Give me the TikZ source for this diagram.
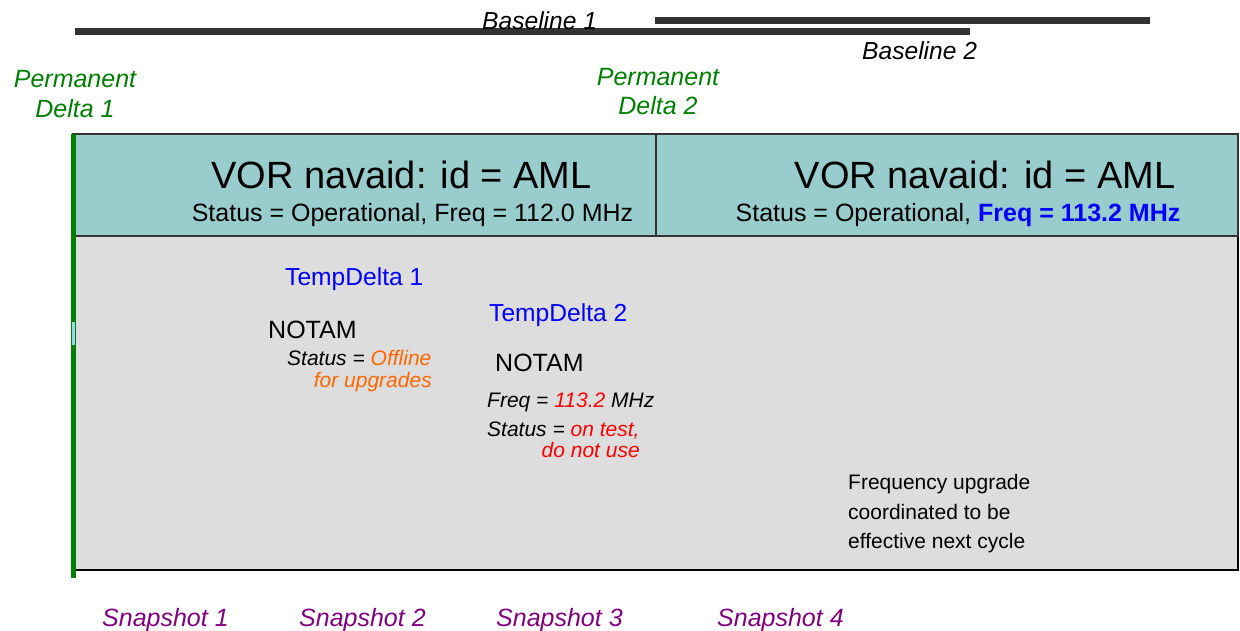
\documentclass[tikz,border=0pt]{standalone}
\usepackage{fontspec}
\setmainfont{Liberation Sans}
\definecolor{vorteal}{RGB}{153,204,204}
\definecolor{snapgray}{RGB}{221,221,221}
\definecolor{permgreen}{RGB}{0,128,0}
\definecolor{notamorange}{RGB}{255,102,0}
\definecolor{snappurple}{RGB}{128,0,128}
\definecolor{barcol}{RGB}{51,51,51}
\definecolor{gapblue}{RGB}{150,215,235}
\newcommand{\fsz}[1]{\fontsize{#1}{#1}\selectfont}
\begin{document}
\begin{tikzpicture}[x=1pt,y=-1pt,
    lbl/.style={inner sep=0pt, anchor=base west},
    perm/.style={lbl, anchor=base, text=permgreen, font=\fsz{25}\itshape},
    head/.style={lbl, anchor=base, font=\fsz{38}},
    sub/.style={lbl, anchor=base, font=\fsz{25}},
    tmp/.style={lbl, text=blue, font=\fsz{24.6}},
    notam/.style={lbl, font=\fsz{25}},
    note/.style={lbl, font=\fsz{21}\itshape},
    snap/.style={lbl, text=snappurple, font=\fsz{25}\itshape},
    bar/.style={barcol, line width=7pt}]
    \useasboundingbox (0,0) rectangle (1240,630);

    % Boxes
    \filldraw[fill=snapgray, draw=black, line width=1.5pt] (73,236) rectangle (1238,570);
    \filldraw[fill=vorteal, draw=black!80, line width=1.5pt] (73,134) rectangle (1238,236);
    \draw[black!80, line width=1.5pt] (656,134) -- (656,236);
    \draw[permgreen, line width=5pt] (73,134) -- (73,578);
    \fill[gapblue] (72,322) rectangle (75,345);

    % Baselines
    \draw[bar] (75,31.5) -- (970,31.5);
    \draw[bar] (655,20.5) -- (1150,20.5);
    \node[lbl, font=\fsz{24.6}\itshape] (bl1) at (482,29) {Baseline 1};
    \node[lbl, font=\fsz{24.6}\itshape] (bl2) at (862,59) {Baseline 2};

    % Permanent deltas
    \node[perm] (pd1a) at (75,87) {Permanent};
    \node[perm] (pd1b) at (75,117) {Delta 1};
    \node[perm] (pd2a) at (658,85) {Permanent};
    \node[perm] (pd2b) at (658,114) {Delta 2};

    % VOR states
    \node[head] (vor1) at (401.5,188) {VOR navaid: id = AML};
    \node[sub] (st1) at (412.5,221) {Status = Operational, Freq = 112.0 MHz};
    \node[head] (vor2) at (985,188) {VOR navaid: id = AML};
    \node[sub] (st2) at (958,221) {Status = Operational, \textcolor{blue}{\bfseries Freq = 113.2 MHz}};

    % Temporary deltas
    \node[tmp] (td1) at (285,285) {TempDelta 1};
    \node[notam] (n1) at (268,338) {NOTAM};
    \node[note] (n1s) at (287,365) {Status = \textcolor{notamorange}{Offline}};
    \node[note, anchor=base east, text=notamorange] (n1u) at (432,387) {for upgrades};
    \node[tmp] (td2) at (489,321) {TempDelta 2};
    \node[notam] (n2) at (495,371) {NOTAM};
    \node[note] (n2f) at (487,407) {Freq = \textcolor{red}{113.2} MHz};
    \node[note] (n2s) at (487,436) {Status = \textcolor{red}{on test,}};
    \node[note, anchor=base east, text=red] (n2u) at (640,457) {do not use};

    % Note
    \node[lbl, font=\fsz{21}] (fu1) at (848,489) {Frequency upgrade};
    \node[lbl, font=\fsz{21}] (fu2) at (848,519) {coordinated to be};
    \node[lbl, font=\fsz{21}] (fu3) at (848,548) {effective next cycle};

    % Snapshots
    \node[snap] (s1) at (102,626) {Snapshot 1};
    \node[snap] (s2) at (299,626) {Snapshot 2};
    \node[snap] (s3) at (496,626) {Snapshot 3};
    \node[snap] (s4) at (717,626) {Snapshot 4};
\end{tikzpicture}
\end{document}
